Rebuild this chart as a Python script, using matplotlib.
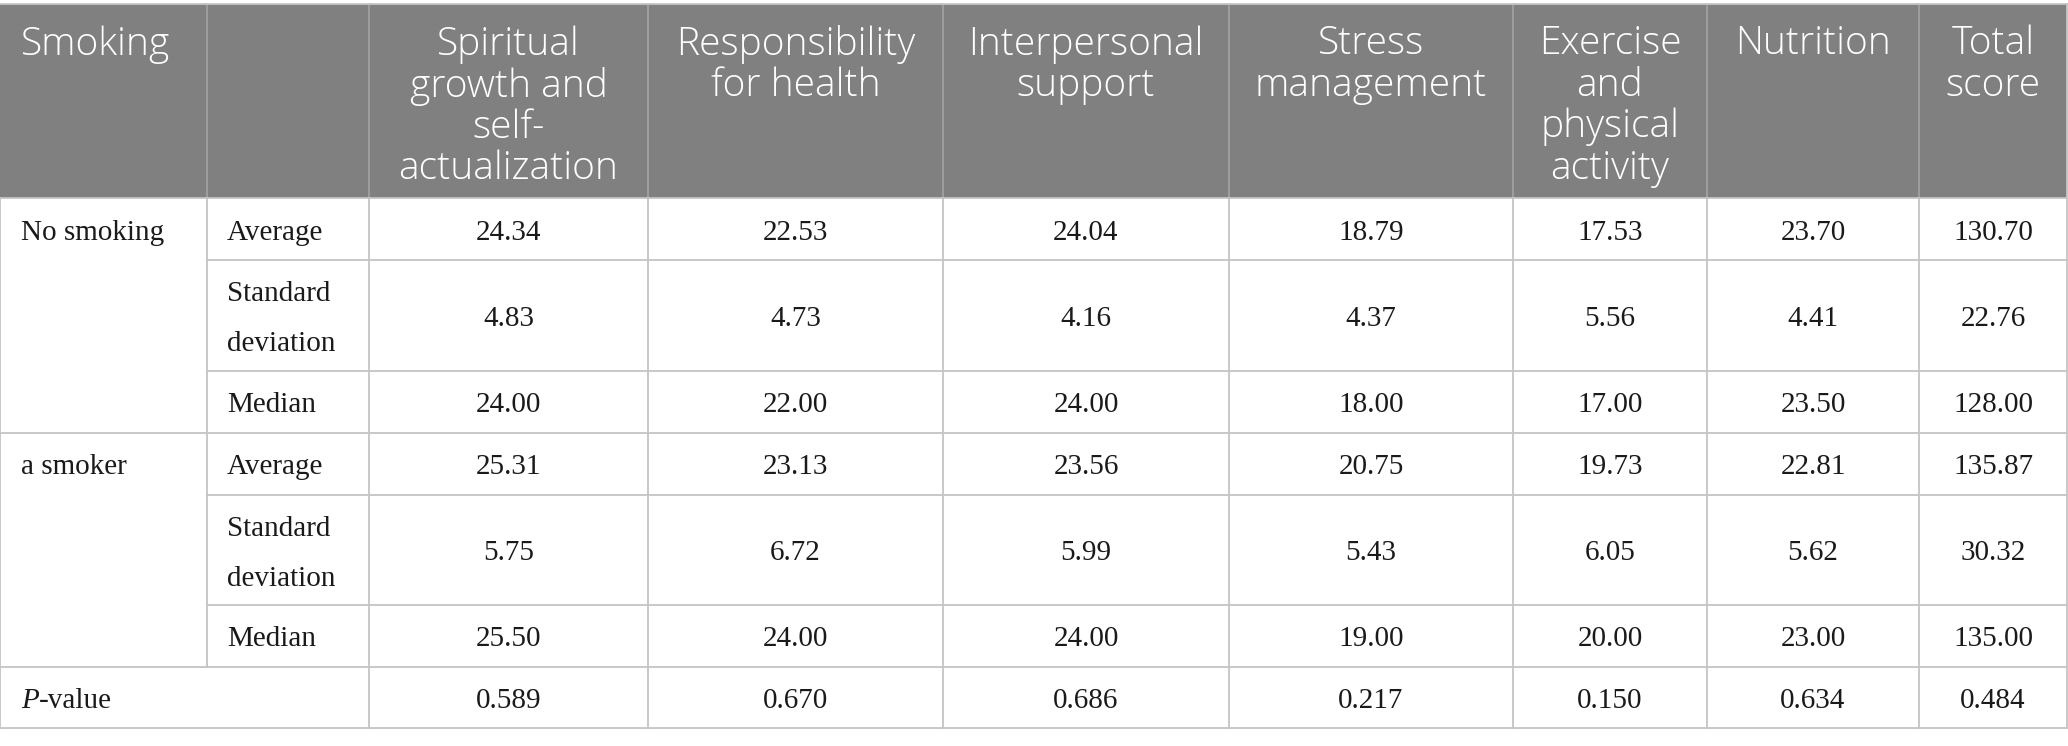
import matplotlib
matplotlib.use("Agg")
import matplotlib.pyplot as plt
from matplotlib.patches import Rectangle

# ---------------- data ----------------
header_labels = ["Smoking", "",
                 "Spiritual\ngrowth and\nself-\nactualization",
                 "Responsibility\nfor health",
                 "Interpersonal\nsupport",
                 "Stress\nmanagement",
                 "Exercise\nand\nphysical\nactivity",
                 "Nutrition",
                 "Total\nscore"]
groups = ["No smoking", "a smoker"]
stat_labels = ["Average", "Standard\ndeviation", "Median"]
no_smoking_avg = ["24.34", "22.53", "24.04", "18.79", "17.53", "23.70", "130.70"]
no_smoking_sd = ["4.83", "4.73", "4.16", "4.37", "5.56", "4.41", "22.76"]
no_smoking_med = ["24.00", "22.00", "24.00", "18.00", "17.00", "23.50", "128.00"]
smoker_avg = ["25.31", "23.13", "23.56", "20.75", "19.73", "22.81", "135.87"]
smoker_sd = ["5.75", "6.72", "5.99", "5.43", "6.05", "5.62", "30.32"]
smoker_med = ["25.50", "24.00", "24.00", "19.00", "20.00", "23.00", "135.00"]
p_values = ["0.589", "0.670", "0.686", "0.217", "0.150", "0.634", "0.484"]

# ---------------- layout (pixels) ----------------
W, H = 2068, 746
col_x = [0, 207, 369, 648, 943, 1229, 1513, 1707, 1919, 2067]
row_y = [4, 198, 260, 371, 433, 495, 605, 667, 728]

header_bg = "#7f807f"
header_line = "#a3a4a3"
grid_color = "#c4c4c4"
text_color = "#1a1a1a"
head_font = "Open Sans"
body_font = "Liberation Serif"
head_size = 28
body_size = 21
base_off = 10.5      # baseline offset below the cell centre
line_gap = 50        # distance between baselines of two-line body labels

fig = plt.figure(figsize=(W / 100, H / 100), dpi=100)
ax = fig.add_axes([0, 0, 1, 1])
ax.set_xlim(0, W)
ax.set_ylim(H, 0)
ax.axis("off")

# header background
ax.add_patch(Rectangle((col_x[0], row_y[0]), col_x[-1] - col_x[0], row_y[1] - row_y[0],
                       facecolor=header_bg, edgecolor="none", zorder=1))

# header vertical separators
for x in col_x[1:-1]:
    ax.plot([x, x], [row_y[0], row_y[1]], color=header_line, lw=1.2, zorder=2)

# header texts
head_top = row_y[0] + 21
for i, lab in enumerate(header_labels):
    if not lab:
        continue
    if i == 0:
        ax.text(col_x[0] + 21, head_top, lab, ha="left", va="top", color="white",
                fontsize=head_size, family=head_font, fontweight="light",
                linespacing=1.1, zorder=3)
    else:
        cx = (col_x[i] + col_x[i + 1]) / 2
        ax.text(cx, head_top, lab, ha="center", va="top", color="white",
                fontsize=head_size, family=head_font, fontweight="light",
                linespacing=1.1, multialignment="center", zorder=3)

# grid lines of body
line_kw = dict(color=grid_color, lw=1.3, zorder=2)
ax.plot([col_x[0], col_x[-1]], [row_y[0], row_y[0]], **line_kw)
for y in [row_y[1], row_y[4], row_y[7], row_y[8]]:
    ax.plot([col_x[0], col_x[-1]], [y, y], **line_kw)
for y in [row_y[2], row_y[3], row_y[5], row_y[6]]:
    ax.plot([col_x[1], col_x[-1]], [y, y], **line_kw)
# verticals
ax.plot([col_x[0], col_x[0]], [row_y[1], row_y[8]], **line_kw)
ax.plot([col_x[-1], col_x[-1]], [row_y[0], row_y[8]], **line_kw)
ax.plot([col_x[1], col_x[1]], [row_y[1], row_y[7]], **line_kw)
for x in col_x[2:-1]:
    ax.plot([x, x], [row_y[1], row_y[8]], **line_kw)

body_kw = dict(fontsize=body_size, family=body_font, color=text_color, zorder=3)

def baseline(r):
    return (row_y[r] + row_y[r + 1]) / 2 + base_off

def mid_x(c):
    return (col_x[c] + col_x[c + 1]) / 2

groups_data = [[no_smoking_avg, no_smoking_sd, no_smoking_med],
               [smoker_avg, smoker_sd, smoker_med]]
for g, gname in enumerate(groups):
    r0 = 1 + 3 * g
    ax.text(col_x[0] + 21, baseline(r0), gname, ha="left", va="baseline", **body_kw)
    for s, slab in enumerate(stat_labels):
        r = r0 + s
        by = baseline(r)
        parts = slab.split("\n")
        n = len(parts)
        for k, part in enumerate(parts):
            ax.text(col_x[1] + 20, by + (k - (n - 1) / 2) * line_gap, part,
                    ha="left", va="baseline", **body_kw)
        vals = groups_data[g][s]
        for c, v in enumerate(vals):
            ax.text(mid_x(c + 2), by, v, ha="center", va="baseline", **body_kw)

# P-value row
by = baseline(7)
tP = ax.text(col_x[0] + 21, by, "P", ha="left", va="baseline", style="italic", **body_kw)
ax.annotate("-value", xy=(1, 0), xycoords=tP, ha="left", va="bottom", **body_kw)
for c, v in enumerate(p_values):
    ax.text(mid_x(c + 2), by, v, ha="center", va="baseline", **body_kw)

fig.savefig("out.png", dpi=100, facecolor="white")
